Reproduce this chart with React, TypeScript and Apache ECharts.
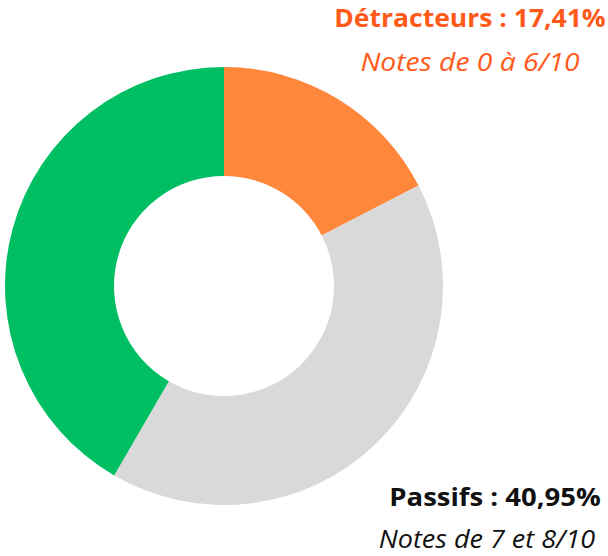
import React, { useEffect, useRef } from "react";
import * as echarts from "echarts";

const categories = ["Détracteurs", "Passifs", "Promoteurs"];
const values = [17.41, 40.95, 41.64];
const subtitles = ["Notes de 0 à 6/10", "Notes de 7 et 8/10", "Notes de 9 et 10/10"];
const sliceColors = ["#FF873B", "#D9D9D9", "#00BF63"];
const textColors = ["#FF5A1A", "#111111", "#00A050"];

const fmt = (v: number) => v.toFixed(2).replace(".", ",") + "%";

export default function App() {
  const ref = useRef<HTMLDivElement>(null);
  useEffect(() => {
    document.body.style.margin = "0";
    const chart = echarts.init(ref.current!, null, { renderer: "svg" });
    const font = "'Open Sans', 'Noto Sans', sans-serif";
    const labelPos = [
      { x1: 470, y1: 17, s1: 1.06, x2: 470, y2: 61, s2: 1.13 },
      { x1: 495, y1: 496, s1: 1.1, x2: 487, y2: 538, s2: 1.08 },
    ];
    const graphics: any[] = [];
    labelPos.forEach((p, i) => {
      graphics.push({
        type: "text",
        x: p.x1,
        y: p.y1,
        scaleX: p.s1,
        style: {
          text: `${categories[i]} : ${fmt(values[i])}`,
          fill: textColors[i],
          font: `bold 25px ${font}`,
          textAlign: "center",
          textVerticalAlign: "middle",
        },
      });
      graphics.push({
        type: "text",
        x: p.x2,
        y: p.y2,
        scaleX: p.s2,
        style: {
          text: subtitles[i],
          fill: textColors[i],
          font: `italic 25px ${font}`,
          textAlign: "center",
          textVerticalAlign: "middle",
        },
      });
    });
    chart.setOption({
      animation: false,
      backgroundColor: "#ffffff",
      series: [
        {
          type: "pie",
          center: [224, 286],
          radius: [110, 219],
          startAngle: 90,
          clockwise: true,
          label: { show: false },
          labelLine: { show: false },
          itemStyle: { borderWidth: 0 },
          emphasis: { disabled: true },
          data: categories.map((c, i) => ({
            name: c,
            value: values[i],
            itemStyle: { color: sliceColors[i] },
          })),
        },
      ],
      graphic: graphics,
    });
    return () => chart.dispose();
  }, []);
  return <div ref={ref} style={{ width: 608, height: 556 }} />;
}
